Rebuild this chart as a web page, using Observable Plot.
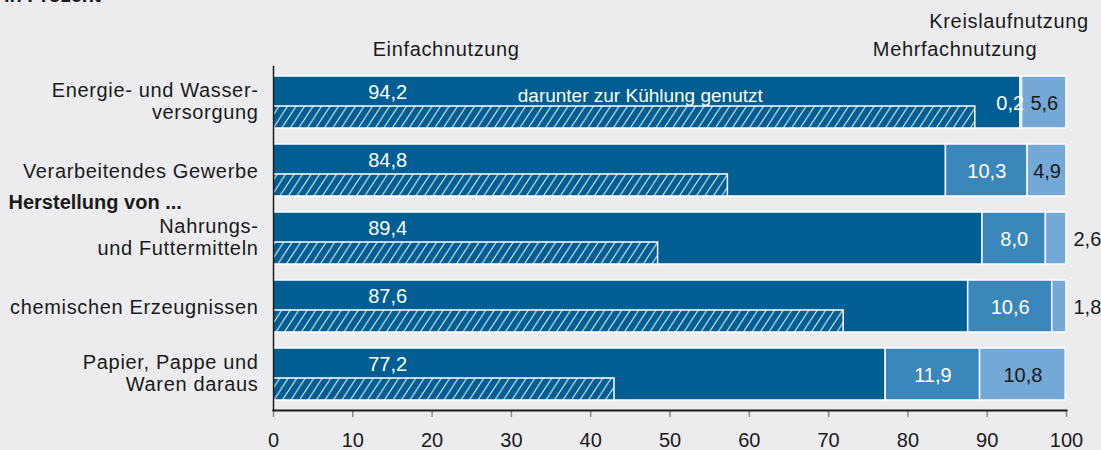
<!DOCTYPE html>
<html>
<head>
<meta charset="utf-8">
<script src="https://cdn.jsdelivr.net/npm/d3@7"></script>
<script src="https://cdn.jsdelivr.net/npm/@observablehq/plot@0.6"></script>
<style>
  html, body { margin: 0; padding: 0; background: #ececee; overflow: hidden; }
  #wrap { position: relative; width: 1101px; height: 450px; font-family: "Liberation Sans", Arial, sans-serif; color: #1a1a1a; }
  #title { position: absolute; left: 4px; top: -15px; font-size: 20px; font-weight: bold; line-height: 20px; white-space: nowrap; }
  #chart { position: absolute; left: 0; top: 0; }
</style>
</head>
<body>
<div id="wrap">
  <div id="chart"></div>
  <div id="title">in Prozent</div>
</div>
<script>
// ---- data ----
const categories = [
  "Energie- und Wasserversorgung",
  "Verarbeitendes Gewerbe",
  "Nahrungs- und Futtermitteln",
  "chemischen Erzeugnissen",
  "Papier, Pappe und Waren daraus"
];
const categoryLabels = [
  "Energie- und Wasser-\nversorgung",
  "Verarbeitendes Gewerbe",
  "Nahrungs-\nund Futtermitteln",
  "chemischen Erzeugnissen",
  "Papier, Pappe und\nWaren daraus"
];
const einfach = [94.2, 84.8, 89.4, 87.6, 77.2];
const mehrfach = [0.2, 10.3, 8.0, 10.6, 11.9];
const kreislauf = [5.6, 4.9, 2.6, 1.8, 10.8];
const kuehlung = [88.5, 57.3, 48.5, 71.9, 43.0];
const seriesNames = ["Einfachnutzung", "Mehrfachnutzung", "Kreislaufnutzung"];
const groupHeader = "Herstellung von ...";
const kuehlungLabel = "darunter zur Kühlung genutzt";
const xTicks = [0, 10, 20, 30, 40, 50, 60, 70, 80, 90, 100];

// ---- styling ----
const colors = {"Einfachnutzung": "#005e93", "Mehrfachnutzung": "#3b86ba", "Kreislaufnutzung": "#74a8d7"};
const FONT = "'Liberation Sans', Arial, sans-serif";
const FS = 20;
const fmt = v => d3.format(".1f")(v).replace(".", ",");

// build segments
const segments = [];
categories.forEach((c, i) => {
  const vals = [einfach[i], mehrfach[i], kreislauf[i]];
  let acc = 0;
  vals.forEach((v, j) => {
    segments.push({cat: c, series: seriesNames[j], value: v, x1: acc, x2: acc + v, idx: i});
    acc += v;
  });
});
const rows = categories.map((c, i) => ({cat: c, label: categoryLabels[i], cool: kuehlung[i]}));
const rowsMulti = rows.filter(d => d.label.includes("\n"));
const rowsSingle = rows.filter(d => !d.label.includes("\n"));

const ein = segments.filter(d => d.series === "Einfachnutzung");
const meh = segments.filter(d => d.series === "Mehrfachnutzung");
const kre = segments.filter(d => d.series === "Kreislaufnutzung");
const mehInside = meh.filter(d => d.value >= 3);
const mehSmall = meh.filter(d => d.value < 3);
const kreInside = kre.filter(d => d.value >= 3);
const kreOutside = kre.filter(d => d.value < 3);

// geometry of the band
const stepPx = (450 - 66 - 40) / 5;
const bandPx = stepPx * 0.77;

const first = categories[0];

const plot = Plot.plot({
  width: 1101,
  height: 450,
  marginLeft: 273,
  marginRight: 35,
  marginTop: 66,
  marginBottom: 40,
  style: {background: "transparent", fontFamily: FONT, fontSize: FS + "px", color: "#1a1a1a", overflow: "visible"},
  x: {domain: [0, 100], axis: null},
  y: {domain: categories, paddingInner: 0.23, paddingOuter: 0.115, axis: null},
  marks: [
    // stacked bars
    Plot.barX(segments, {y: "cat", x1: "x1", x2: "x2", fill: d => colors[d.series], stroke: "#fff", strokeWidth: 1.5}),
    // hatched cooling bars
    Plot.barX(rows, {y: "cat", x1: 0, x2: "cool", fill: "url(#hatch)", stroke: "#fff", strokeWidth: 1.5, insetTop: 30}),
    // frame lines
    Plot.frame({anchor: "left", stroke: "#1a1a1a", strokeWidth: 1.5}),
    Plot.axisX(xTicks, {anchor: "bottom", tickSize: 7, tickPadding: 15, stroke: "#8a8a8a", strokeWidth: 1.5, fill: "#1a1a1a", fontSize: FS, tickFormat: d => String(d), label: null}),
    Plot.frame({anchor: "bottom", stroke: "#1a1a1a", strokeWidth: 2}),
    // category labels
    Plot.text(rowsMulti, {x: 0, y: "cat", text: "label", textAnchor: "end", dx: -15, dy: -2, lineHeight: 1.1, fontSize: FS, fill: "#1a1a1a", className: "word"}),
    Plot.text(rowsSingle, {x: 0, y: "cat", text: "label", textAnchor: "end", dx: -15, dy: 1, fontSize: FS, fill: "#1a1a1a", className: "word"}),
    Plot.text([{cat: categories[2], t: groupHeader}], {y: "cat", text: "t", frameAnchor: "left", dx: -265, dy: -36, textAnchor: "start", fontWeight: "bold", fontSize: FS, fill: "#1a1a1a"}),
    // value labels
    Plot.text(ein, {x: 14.4, y: "cat", text: d => fmt(d.value), fill: "#fff", dy: -10, fontSize: FS}),
    Plot.text(mehInside, {x: d => (d.x1 + d.x2) / 2, y: "cat", text: d => fmt(d.value), fill: "#fff", dy: 1, fontSize: FS}),
    Plot.text(mehSmall, {x: "x2", y: "cat", text: d => fmt(d.value), fill: "#fff", textAnchor: "end", dx: 2, dy: 1, fontSize: FS}),
    Plot.text(kreInside, {x: d => (d.x1 + d.x2) / 2, y: "cat", text: d => fmt(d.value), fill: "#1a1a1a", dy: 1, fontSize: FS}),
    Plot.text(kreOutside, {x: "x2", y: "cat", text: d => fmt(d.value), fill: "#1a1a1a", textAnchor: "start", dx: 7, dy: 1, fontSize: FS}),
    Plot.text([{cat: first, t: kuehlungLabel}], {x: 30.8, y: "cat", text: "t", fill: "#fff", textAnchor: "start", dy: -7, fontSize: FS - 1}),
    // series annotations
    Plot.ruleX([{cat: first, x: 14.4}], {x: "x", y: "cat", insetTop: -13, insetBottom: bandPx, stroke: "#333", strokeWidth: 1}),
    Plot.ruleX([{cat: first, x: 94.4}], {x: "x", y: "cat", insetTop: -11, insetBottom: bandPx, stroke: "#333", strokeWidth: 1}),
    Plot.ruleX([{cat: first, x: 97.3}], {x: "x", y: "cat", insetTop: -37, insetBottom: bandPx, stroke: "#333", strokeWidth: 1}),
    Plot.text([{cat: first, t: seriesNames[0]}], {x: 12.5, y: "cat", text: "t", textAnchor: "start", dy: -bandPx / 2 - 26, fill: "#1a1a1a", fontSize: FS, className: "word"}),
    Plot.text([{cat: first, t: seriesNames[1]}], {x: 96.3, y: "cat", text: "t", textAnchor: "end", dy: -bandPx / 2 - 26, fill: "#1a1a1a", fontSize: FS, className: "word"}),
    Plot.text([{cat: first, t: seriesNames[2]}], {x: 102.8, y: "cat", text: "t", textAnchor: "end", dy: -bandPx / 2 - 54, fill: "#1a1a1a", fontSize: FS, className: "word"})
  ]
});

d3.select(plot).insert("defs", ":first-child").html(
  `<pattern id="hatch" patternUnits="userSpaceOnUse" width="8.5" height="13">
     <rect width="8.5" height="13" fill="#005e93"/>
     <path d="M-2,3 L2,-3 M0,13 L8.5,0 M6.5,16 L10.5,10" stroke="#e8f1f8" stroke-width="1"/>
   </pattern>`
);
// wider letter spacing for word labels (reference typeface runs wider)
d3.select(plot).selectAll("g.word text, .word text").style("letter-spacing", "0.65px");

document.getElementById("chart").appendChild(plot);
</script>
</body>
</html>
